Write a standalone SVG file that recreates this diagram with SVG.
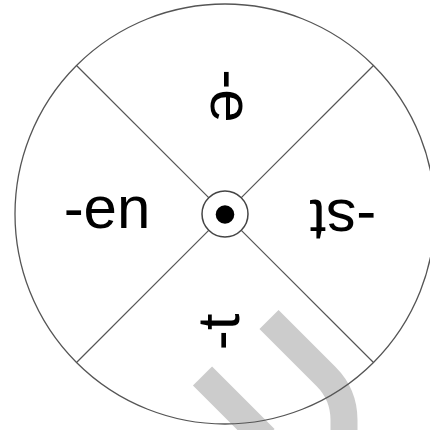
<svg xmlns="http://www.w3.org/2000/svg" width="430" height="430" viewBox="0 0 430 430">
  <style>
    .lbl { font-family: "Liberation Sans", Arial, sans-serif; font-size: 60px; fill: #000; text-anchor: middle; }
    .spoke { stroke: #555; stroke-width: 1.2; fill: none; }
    .deco { stroke: #cccccc; stroke-width: 27; fill: none; stroke-linecap: butt; }
  </style>
  <rect x="0" y="0" width="430" height="430" fill="#fff"/>
  <g id="decoration">
    <path class="deco" d="M 202.5 376 L 265 438.5"/>
    <path class="deco" d="M 269 319.5 L 326 376.5 Q 344 394.5 344 420 L 344 440"/>
  </g>
  <g id="wheel">
    <circle cx="225" cy="214" r="210" fill="none" stroke="#555" stroke-width="1.3"/>
  </g>
  <g id="connectors">
    <line class="spoke" x1="208.7" y1="197.7" x2="76.5" y2="65.5"/>
    <line class="spoke" x1="241.3" y1="197.7" x2="373.5" y2="65.5"/>
    <line class="spoke" x1="208.7" y1="230.3" x2="76.5" y2="362.5"/>
    <line class="spoke" x1="241.3" y1="230.3" x2="373.5" y2="362.5"/>
  </g>
  <g id="hub">
    <circle cx="225" cy="214" r="23" fill="#fff" stroke="#444" stroke-width="1.5"/>
    <circle cx="225" cy="214.5" r="9.3" fill="#000"/>
  </g>
  <g id="label-en">
    <text class="lbl" x="107" y="228">-en</text>
  </g>
  <g id="label-e" transform="rotate(90 225 214)">
    <text class="lbl" x="107" y="228">-e</text>
  </g>
  <g id="label-st" transform="rotate(180 225 214)">
    <text class="lbl" x="107" y="228">-st</text>
  </g>
  <g id="label-t" transform="rotate(270 225 214)">
    <text class="lbl" x="107" y="228">-t</text>
  </g>
</svg>
